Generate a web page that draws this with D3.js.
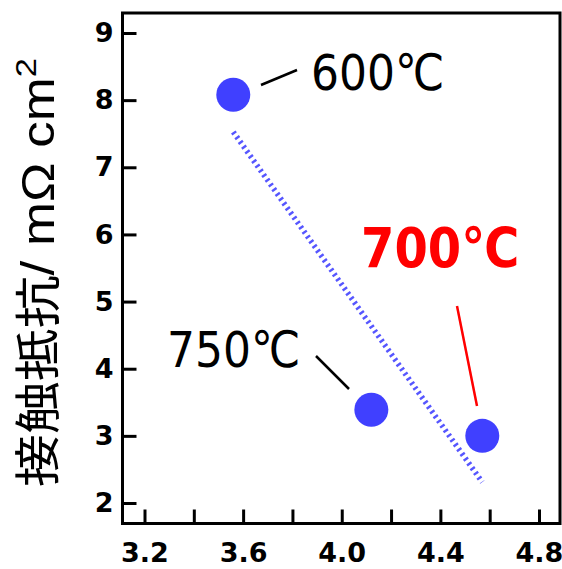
<!DOCTYPE html>
<html>
<head>
<meta charset="utf-8">
<script src="https://cdn.jsdelivr.net/npm/d3@7"></script>
<style>
  html, body { margin: 0; padding: 0; background: #fff; }
  svg { display: block; }
</style>
</head>
<body>
<svg id="chart" width="562" height="569"></svg>
<script>
// Contact resistance vs. x-value for three annealing temperatures
const labels = ["600℃", "750℃", "700℃"];
const xValues = [3.56, 4.12, 4.57];
const yValues = [8.08, 3.39, 3.0];
const xTicks = [3.2, 3.4, 3.6, 3.8, 4.0, 4.2, 4.4, 4.6, 4.8];
const xTickLabels = ["3.2", "", "3.6", "", "4.0", "", "4.4", "", "4.8"];
const yTicks = [2, 3, 4, 5, 6, 7, 8, 9];
const yTitle = ["接触抵抗", "/ mΩ cm", "2"];

const svg = d3.select("#chart");
const frame = { left: 122.5, top: 13, right: 560, bottom: 523.5 };

const x = d3.scaleLinear().domain([3.2, 4.8]).range([144.5, 539]);
const y = d3.scaleLinear().domain([2, 9]).range([503, 33]);

const latin = "'Liberation Sans', Arial, sans-serif";
const tickFont = "'DejaVu Sans', Verdana, sans-serif";
const cjk = "'Noto Sans CJK JP', 'Noto Sans CJK SC', sans-serif";

// Y axis (inward ticks)
const yAxis = svg.append("g")
  .attr("transform", `translate(${frame.left},0)`)
  .call(d3.axisLeft(y).tickValues(yTicks).tickFormat(d3.format("d"))
    .tickSizeInner(-14).tickSizeOuter(0).tickPadding(9));
yAxis.select(".domain").remove();
yAxis.selectAll(".tick line").attr("stroke", "#000").attr("stroke-width", 3);
yAxis.selectAll(".tick text").attr("font-family", tickFont).attr("font-size", 27)
  .attr("font-weight", "bold").attr("fill", "#000");

// X axis (inward ticks)
const xAxis = svg.append("g")
  .attr("transform", `translate(0,${frame.bottom})`)
  .call(d3.axisBottom(x).tickValues(xTicks)
    .tickFormat((d, i) => xTickLabels[i])
    .tickSizeInner(-14).tickSizeOuter(0).tickPadding(19.5));
xAxis.select(".domain").remove();
xAxis.selectAll(".tick line").attr("stroke", "#000").attr("stroke-width", 3);
xAxis.selectAll(".tick text").attr("font-family", tickFont).attr("font-size", 27)
  .attr("font-weight", "bold").attr("fill", "#000");

// Plot frame
svg.append("rect")
  .attr("x", frame.left).attr("y", frame.top)
  .attr("width", frame.right - frame.left).attr("height", frame.bottom - frame.top)
  .attr("fill", "none").attr("stroke", "#000").attr("stroke-width", 3);

// Least-squares trend line across the data range
const mx = d3.mean(xValues), my = d3.mean(yValues);
const sxy = d3.sum(xValues, (v, i) => (v - mx) * (yValues[i] - my));
const sxx = d3.sum(xValues, v => (v - mx) * (v - mx));
const slope = sxy / sxx, intercept = my - slope * mx;
const [x0, x1] = d3.extent(xValues);
svg.append("path")
  .attr("d", d3.line()([[x(x0), y(intercept + slope * x0)], [x(x1), y(intercept + slope * x1)]]))
  .attr("stroke", "#5656ff").attr("stroke-width", 5.5)
  .attr("stroke-dasharray", "2.4,3.4").attr("fill", "none");

// Data points
svg.append("g").selectAll("circle")
  .data(xValues)
  .join("circle")
  .attr("cx", (d) => x(d))
  .attr("cy", (d, i) => y(yValues[i]))
  .attr("r", 17)
  .attr("fill", "#4040ff");

// Temperature annotations with leader lines
const notes = [
  { i: 0, tx: 311, ty: 90, fs: 44, weight: "normal", color: "#000",
    lead: [[261, 85], [297, 70]] },
  { i: 1, tx: 167, ty: 367, fs: 44, weight: "normal", color: "#000",
    lead: [[316, 356], [349, 389]] },
  { i: 2, tx: 361, ty: 267, fs: 48, weight: "bold", color: "#ff0000",
    lead: [[457, 306], [477, 406]] }
];
notes.forEach(n => {
  svg.append("line")
    .attr("x1", n.lead[0][0]).attr("y1", n.lead[0][1])
    .attr("x2", n.lead[1][0]).attr("y2", n.lead[1][1])
    .attr("stroke", n.color).attr("stroke-width", 2.5);
  svg.append("text")
    .attr("transform", `translate(${n.tx},${n.ty}) scale(1,1.15)`)
    .attr("font-family", tickFont).attr("font-size", n.fs)
    .attr("font-weight", n.weight).attr("fill", n.color)
    .text(labels[n.i]);
});

// Y axis title, rotated
const title = svg.append("text")
  .attr("transform", "translate(54,272.5) rotate(-90)")
  .attr("text-anchor", "middle")
  .attr("textLength", 429).attr("lengthAdjust", "spacingAndGlyphs")
  .attr("font-family", latin).attr("font-size", 46).attr("fill", "#000");
title.append("tspan").attr("font-family", cjk).text(yTitle[0]);
title.append("tspan").text(yTitle[1]);
title.append("tspan").attr("font-size", 30).attr("dy", -18).text(yTitle[2]);
</script>
</body>
</html>
